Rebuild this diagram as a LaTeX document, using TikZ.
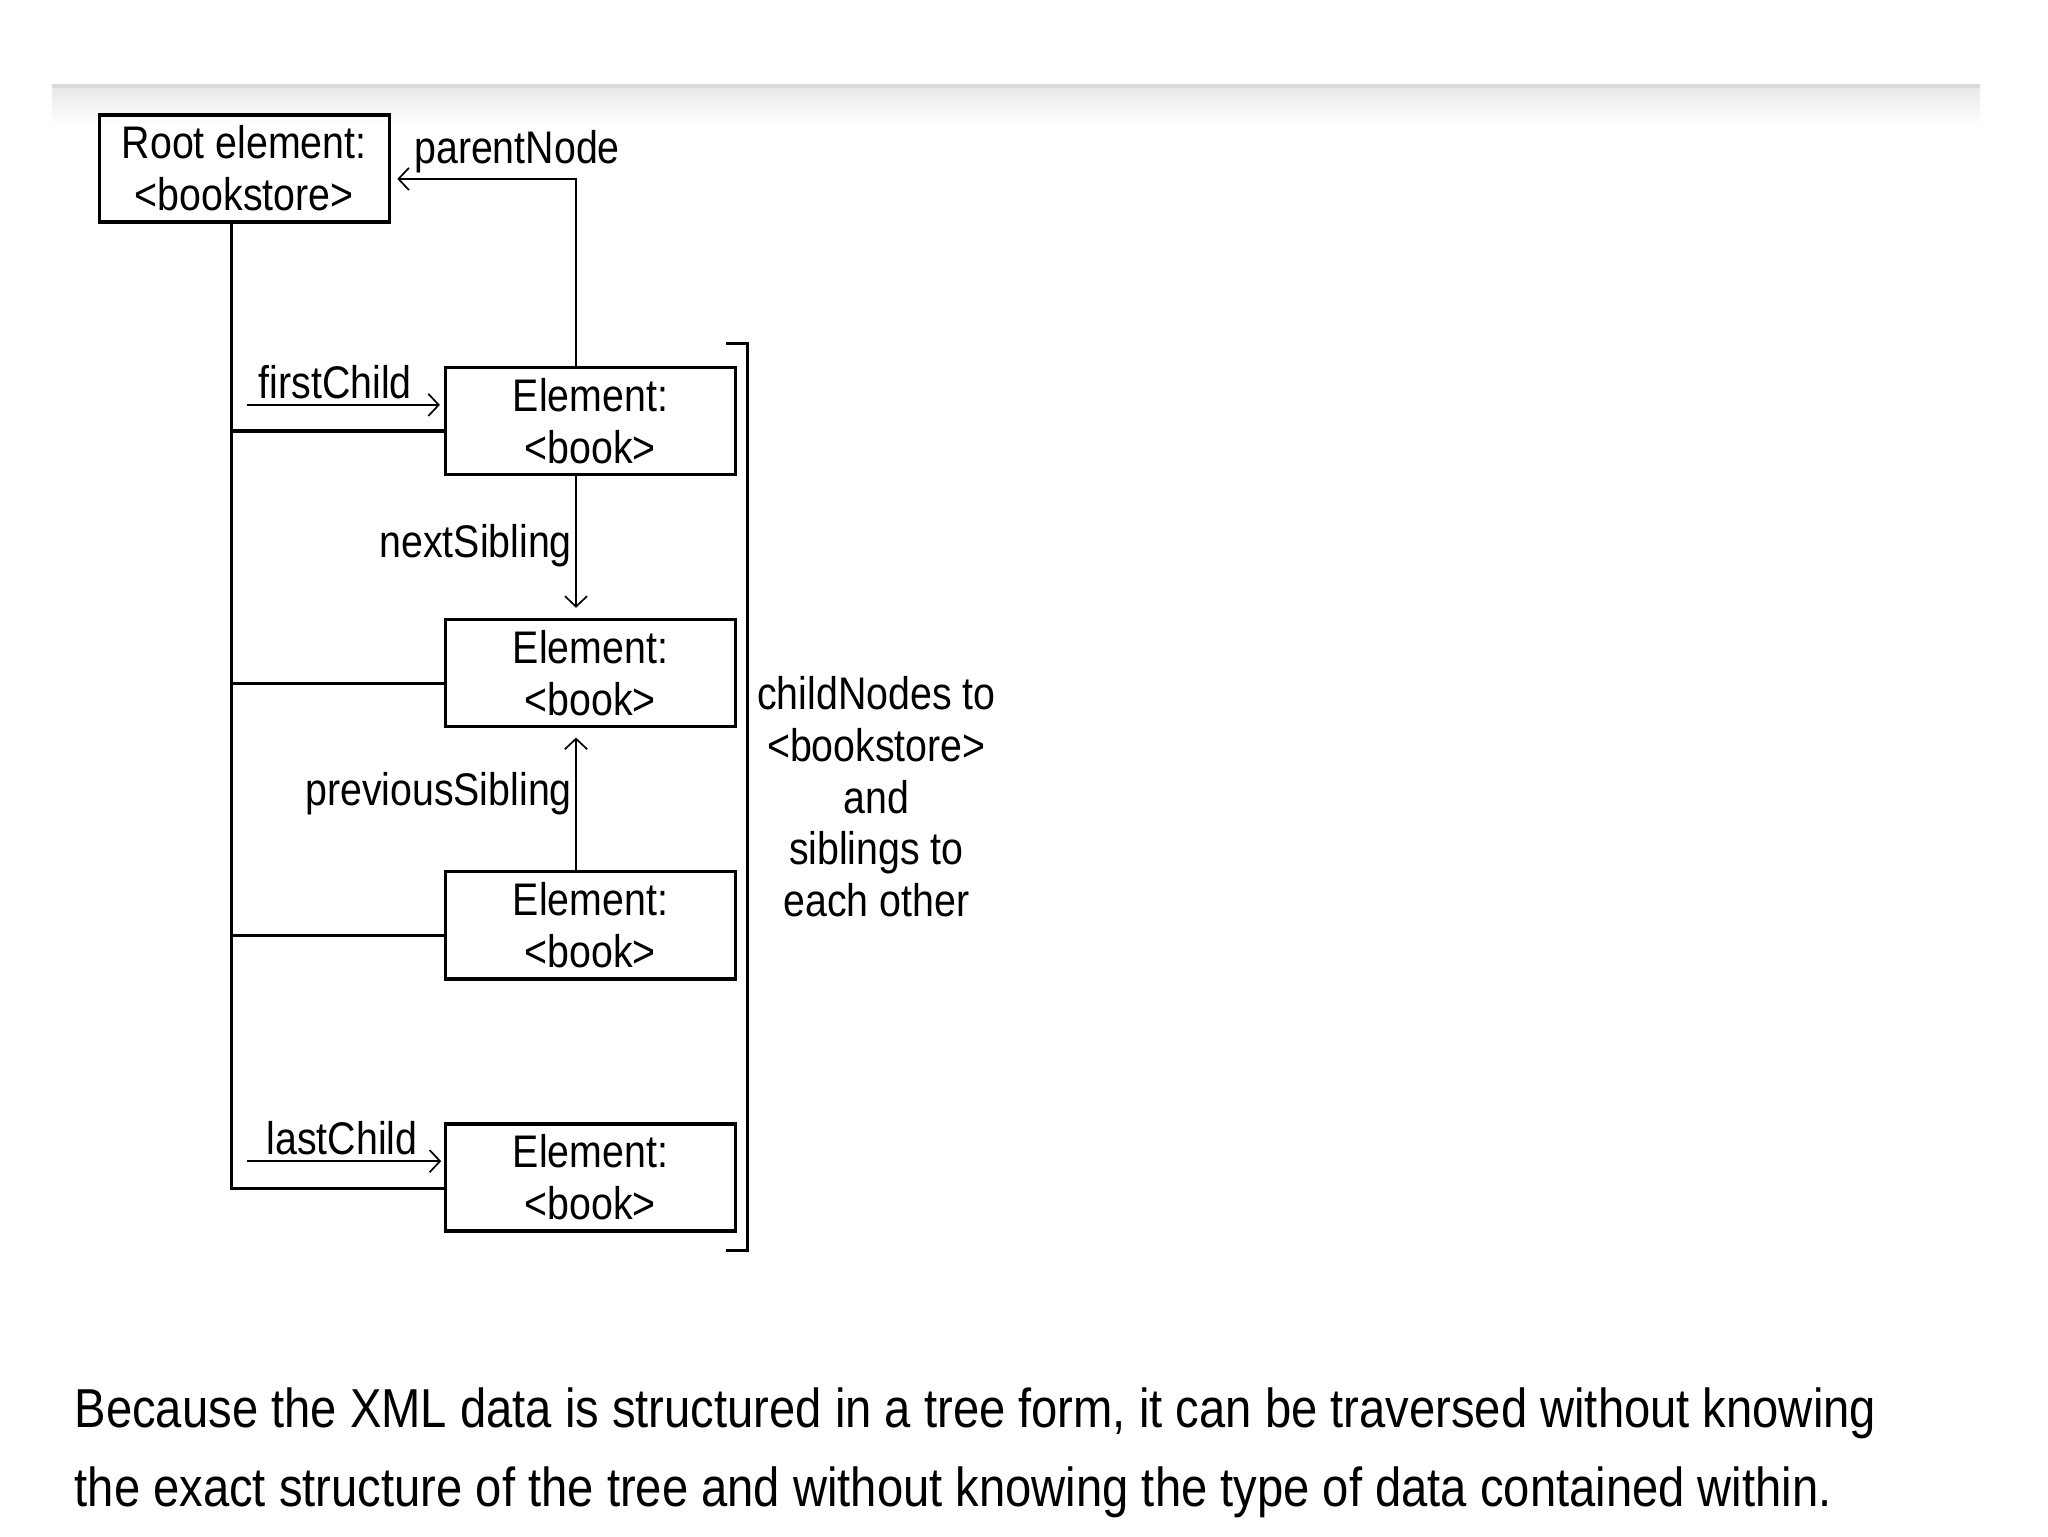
\documentclass[tikz,border=0pt]{standalone}
\usepackage{fontspec}
\setmainfont{Liberation Sans}[FakeStretch=0.86]
\usetikzlibrary{arrows.meta,calc}
\begin{document}
\begin{tikzpicture}[x=1pt,y=-1pt,
  box/.style={draw,line width=2.4pt,minimum width=222pt,minimum height=82pt,inner sep=0pt,align=center,font=\fontsize{35}{40}\selectfont},
  lbl/.style={inner sep=0pt,font=\fontsize{35}{40}\selectfont},
  tree/.style={line width=2.4pt},
  arr/.style={line width=1.8pt,-{Straight Barb[length=8pt,width=17pt,line width=1.3pt]}}]
\useasboundingbox (0,0) rectangle (1568,1176);
% top shadow bar
\shade[top color=gray!18,bottom color=white] (40,67) rectangle (1516,95);
\fill[gray!30] (40,64.5) rectangle (1516,67.5);
% boxes
\node[box] (root) at (187,129) {Root element:\\<bookstore>};
\node[box] (b1) at (452,322.5) {Element:\\<book>};
\node[box] (b2) at (452,515.5) {Element:\\<book>};
\node[box] (b3) at (452,708.5) {Element:\\<book>};
\node[box] (b4) at (452,901.5) {Element:\\<book>};
% tree lines
\coordinate (rt) at ($(root.south)+(-10,0)$);
\coordinate (j1) at ($(b1.west)+(0,7.5)$);
\coordinate (j2) at ($(b2.west)+(0,7.5)$);
\coordinate (j3) at ($(b3.west)+(0,7.5)$);
\coordinate (j4) at ($(b4.west)+(0,8.5)$);
\draw[tree] (rt) |- (j4);
\draw[tree] (j1) -- (j1 -| rt);
\draw[tree] (j2) -- (j2 -| rt);
\draw[tree] (j3) -- (j3 -| rt);
% bracket
\draw[tree] ($(b1.north east)+(-8,-17)$) -- ($(b1.north east)+(8,-17)$) -- ($(b4.south east)+(8,14)$) -- ($(b4.south east)+(-8,14)$);
% arrows
\draw[arr] ($(b1.north)+(-11,0)$) |- ($(root.east)+(5,8)$);
\draw[arr] ($(b1.south)+(-11,0)$) -- ($(b2.north)+(-11,-8)$);
\draw[arr] ($(b3.north)+(-11,0)$) -- ($(b2.south)+(-11,7)$);
\draw[arr] ($(b1.west)+(-151,-12.5)$) -- ($(b1.west)+(-3,-12.5)$);
\draw[arr] ($(b4.west)+(-151,-12.5)$) -- ($(b4.west)+(-2,-12.5)$);
% labels
\node[lbl,anchor=base west] (lpn) at (317,125) {parentNode};
\node[lbl,anchor=base west] (lfc) at (198,305) {firstChild};
\node[lbl,anchor=base west] (llc) at (204,884) {lastChild};
\node[lbl,anchor=base east] (lns) at (438,427) {nextSibling};
\node[lbl,anchor=base east] (lps) at (438,617) {previousSibling};
\node[lbl,align=center,font=\fontsize{35}{39.5}\selectfont] (cn) at (671,610) {childNodes to\\<bookstore>\\and\\siblings to\\each other};
% paragraph
\node[inner sep=0pt,anchor=north west,align=left,font=\fontsize{42}{61}\selectfont] (para) at (57,1062) {Because the XML data is structured in a tree form, it can be traversed without knowing\\the exact structure of the tree and without knowing the type of data contained within.};
\end{tikzpicture}
\end{document}
